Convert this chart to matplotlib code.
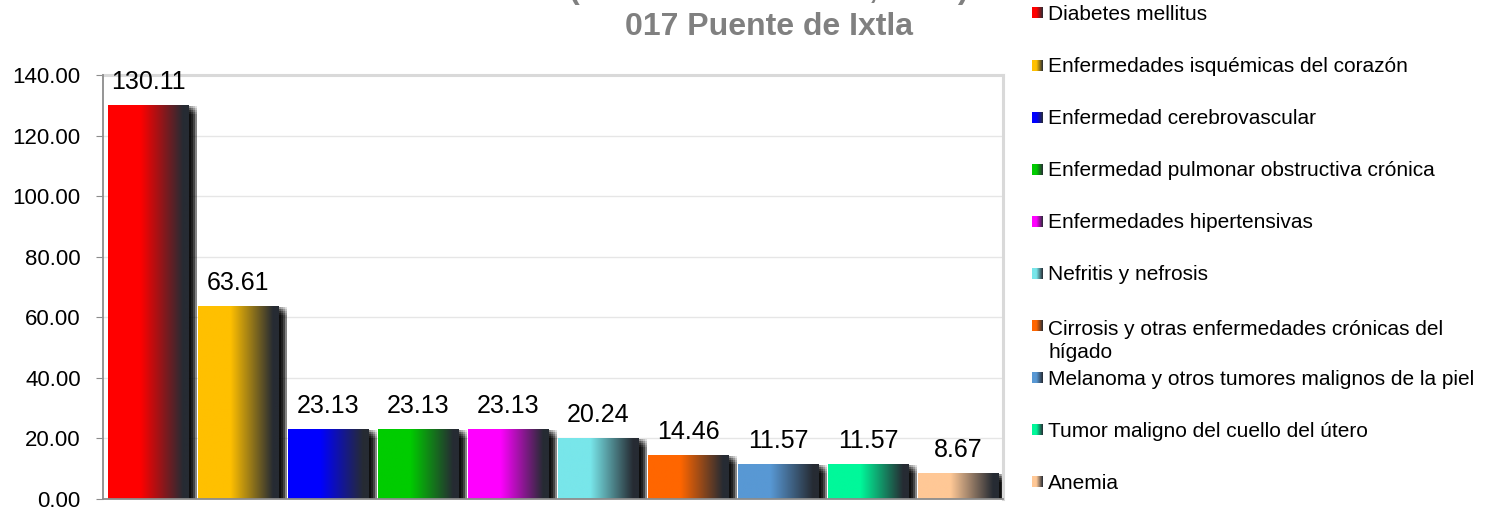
import numpy as np
import matplotlib
matplotlib.use("Agg")
import matplotlib.pyplot as plt
from matplotlib.colors import LinearSegmentedColormap
from matplotlib.patches import Rectangle
from matplotlib.transforms import ScaledTranslation

plt.rcParams['font.family'] = ['Liberation Sans', 'DejaVu Sans']

# ---- data ----
categories = [
    "Diabetes mellitus",
    "Enfermedades isquémicas del corazón",
    "Enfermedad cerebrovascular",
    "Enfermedad pulmonar obstructiva crónica",
    "Enfermedades hipertensivas",
    "Nefritis y nefrosis",
    "Cirrosis y otras enfermedades crónicas del\nhígado",
    "Melanoma y otros tumores malignos de la piel",
    "Tumor maligno del cuello del útero",
    "Anemia",
]
values = [130.11, 63.61, 23.13, 23.13, 23.13, 20.24, 14.46, 11.57, 11.57, 8.67]
colors = ["#FF0000", "#FFC000", "#0000FF", "#00CC00", "#FF00FF",
          "#78E6EA", "#FF6600", "#5898D4", "#00F89A", "#FFC896"]
yticks = [0, 20, 40, 60, 80, 100, 120, 140]
title_line1 = "(Tasa x 100 mil hab., 2016)"
title_line2 = "017 Puente de Ixtla"

DARK = "#262B33"
W, H = 1491, 511
fig = plt.figure(figsize=(W / 100, H / 100), dpi=100)

ax = fig.add_axes([103 / W, 1 - 499 / H, 900 / W, 424 / H])
x = np.arange(len(values))
bars = ax.bar(x, values, width=0.89, color=colors, zorder=3)

grad = np.linspace(0, 1, 256).reshape(1, -1)
for b, c in zip(bars, colors):
    cmap = LinearSegmentedColormap.from_list(
        "g", [(0, c), (0.40, c), (0.93, DARK), (1, DARK)])
    x0, y0 = b.get_x(), b.get_y()
    w, h = b.get_width(), b.get_height()
    im = ax.imshow(grad, cmap=cmap, extent=[x0, x0 + w, y0, y0 + h],
                   aspect='auto', zorder=3.1, interpolation='bilinear')
    im.set_clip_path(b)
    # blurred drop shadow
    for dx in range(1, 11, 2):
        for dy in range(-9, 0, 2):
            off = ScaledTranslation(dx / 100, dy / 100, fig.dpi_scale_trans)
            r = Rectangle((x0, y0), w, h, transform=ax.transData + off,
                          facecolor='black', edgecolor='none', alpha=0.12,
                          zorder=2)
            ax.add_patch(r)
    ax.annotate(f"{b.get_height():.2f}", (x0 + w / 2, y0 + h),
                xytext=(0, 11.5), textcoords='offset points',
                ha='center', va='baseline', fontsize=18, color='black',
                zorder=5, annotation_clip=False)

ax.set_xlim(-0.5, len(values) - 0.5)
ax.set_ylim(0, 140)
ax.set_yticks(yticks)
ax.set_yticklabels([f"{t:.2f}" for t in yticks])
ax.set_xticks([])
ax.yaxis.grid(True, color='#e6e6e6', lw=1, zorder=0)
ax.set_axisbelow(True)
for s in ['left', 'bottom']:
    ax.spines[s].set_color('#8c8c8c')
    ax.spines[s].set_linewidth(1.3)
    ax.spines[s].set_zorder(6)
for s in ['top', 'right']:
    ax.spines[s].set_color('#d9d9d9')
    ax.spines[s].set_linewidth(2.2)
ax.tick_params(axis='y', length=5, color='#8c8c8c', labelsize=16, pad=11,
               labelcolor='black')

# overlay axes in pixel coordinates for title and legend
lax = fig.add_axes([0, 0, 1, 1], zorder=10)
lax.set_xlim(0, W)
lax.set_ylim(H, 0)
lax.axis('off')
lax.patch.set_visible(False)

lax.text(769, -2, title_line1, ha='center', va='baseline', fontsize=23,
         fontweight='bold', color='#808080', clip_on=False)
lax.text(769, 35, title_line2, ha='center', va='baseline', fontsize=23,
         fontweight='bold', color='#808080')

grad_small = np.linspace(0, 1, 64).reshape(1, -1)
line_h = 25
for i, (lab, c) in enumerate(zip(categories, colors)):
    yc = 13 + i * 52.1
    cmap = LinearSegmentedColormap.from_list("g", [(0, c), (0.4, c), (1, DARK)])
    lax.imshow(grad_small, cmap=cmap, extent=[1032, 1043, yc + 5.5, yc - 5.5],
               aspect='auto', interpolation='bilinear')
    nl = lab.count("\n")
    lax.text(1048, yc + 7 + nl * line_h, lab, ha='left', va='baseline',
             fontsize=15, color='black', linespacing=1.25)
lax.set_xlim(0, W)
lax.set_ylim(H, 0)

fig.savefig("out.png", dpi=100)
